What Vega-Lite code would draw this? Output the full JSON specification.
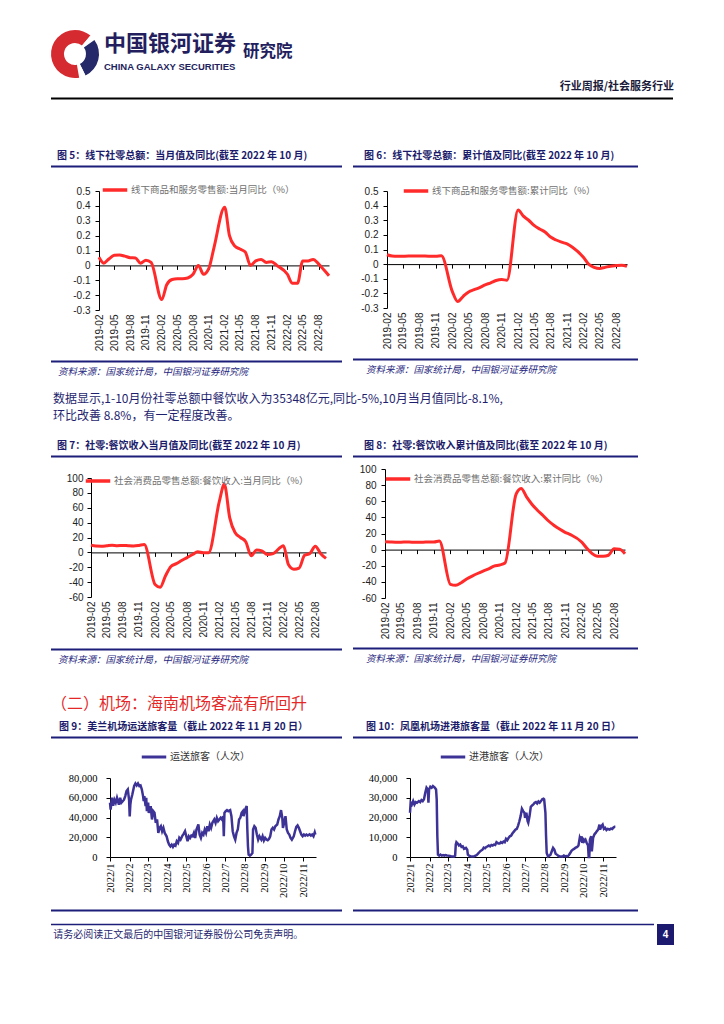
{
 "$schema": "https://vega.github.io/schema/vega-lite/v6.json",
 "background": "white",
 "padding": {"left": 50, "top": 30, "right": 10, "bottom": 5},
 "config": {"view": {"stroke": null}, "font": "Noto Sans CJK SC", "title": {"font": "Noto Sans CJK SC"}, "axis": {"grid": false}},
 "resolve": {"scale": {"color": "independent"}, "legend": {"color": "independent"}},
 "concat": [
  {"concat": [
    {"width": 48, "height": 48,
     "data": {"values": [{"k":1,"p":"r","v":40},{"k":2,"p":"w","v":14},{"k":3,"p":"n","v":100},{"k":4,"p":"w","v":16},{"k":5,"p":"r","v":190}]},
     "mark": {"type": "arc", "innerRadius": 11, "outerRadius": 24},
     "encoding": {"theta": {"field": "v", "type": "quantitative", "stack": true}, "order": {"field": "k", "type": "quantitative"},
       "color": {"field": "p", "type": "nominal", "scale": {"domain": ["r","w","n"], "range": ["#D52B30","#FFFFFF","#25296A"]}, "legend": null}}},
    {"width": 134, "height": 1, "data": {"values": [{}]}, "mark": {"type": "point", "size": 0, "opacity": 0}, "encoding": {},
     "title": {"text": "中国银河证券", "subtitle": "CHINA GALAXY SECURITIES", "orient": "bottom", "anchor": "start", "offset": 3, "fontSize": 22, "fontWeight": "bold", "color": "#231E5E", "subtitleFont": "Liberation Sans", "subtitleFontSize": 9.5, "subtitleFontWeight": "bold", "subtitleColor": "#231E5E", "subtitlePadding": 6}},
    {"width": 55, "height": 1, "data": {"values": [{}]}, "mark": {"type": "point", "size": 0, "opacity": 0}, "encoding": {},
     "title": {"text": "研究院", "orient": "bottom", "anchor": "start", "offset": 13, "fontSize": 16.5, "fontWeight": "bold", "color": "#231E5E"}}
   ], "columns": 3, "align": "none", "spacing": 5, "resolve": {"scale": {"color": "independent"}, "legend": {"color": "independent"}}},
  {"concat": [
    {"width": 622, "height": 1, "data": {"values": [{}]},
     "mark": {"type": "rule", "color": "#000000", "strokeWidth": 2},
     "encoding": {"x": {"datum": 0, "type": "quantitative", "scale": {"domain": [0, 1]}, "axis": null}, "x2": {"datum": 1}},
     "title": {"text": "行业周报/社会服务行业", "orient": "top", "anchor": "end", "offset": 6, "fontSize": 11, "fontWeight": "bold", "color": "#1A1A3A"}},
    {"concat": [
      {"concat": [
        {"concat": [
          {"width": 291, "height": 1, "data": {"values": [{}]}, "mark": {"type": "rule", "color": "#1D1D7A", "strokeWidth": 2},
           "encoding": {"x": {"datum": 0, "type": "quantitative", "scale": {"domain": [0, 1]}, "axis": null}, "x2": {"datum": 1}},
           "title": {"text": "图 5：线下社零总额：当月值及同比(截至 2022 年 10 月)", "orient": "top", "anchor": "start", "offset": 5, "dx": 7, "fontSize": 10, "fontWeight": "bold", "color": "#1B1B6B"}},
          {"concat": [
            {"concat": [
              {"width": 21, "height": 1, "data": {"values": [{}]}, "mark": {"type": "rule", "opacity": 0, "strokeWidth": 0},
               "encoding": {"x": {"datum": 0, "type": "quantitative", "scale": {"domain": [0, 1]}, "axis": null}, "x2": {"datum": 1}}},
              {"width": 230, "height": 119,
               "data": {"values": [{"m":"2019-02","v":0.055},{"m":"2019-03","v":0.015},{"m":"2019-04","v":0.045},{"m":"2019-05","v":0.068},{"m":"2019-06","v":0.07},{"m":"2019-07","v":0.062},{"m":"2019-08","v":0.052},{"m":"2019-09","v":0.05},{"m":"2019-10","v":0.015},{"m":"2019-11","v":0.035},{"m":"2019-12","v":0.02},
                 {"m":"2020-02","v":-0.23},{"m":"2020-03","v":-0.13},{"m":"2020-04","v":-0.095},{"m":"2020-05","v":-0.09},{"m":"2020-06","v":-0.09},{"m":"2020-07","v":-0.085},{"m":"2020-08","v":-0.06},{"m":"2020-09","v":0.0},{"m":"2020-10","v":-0.06},{"m":"2020-11","v":-0.02},{"m":"2020-12","v":0.12},
                 {"m":"2021-02","v":0.39},{"m":"2021-03","v":0.2},{"m":"2021-04","v":0.13},{"m":"2021-05","v":0.11},{"m":"2021-06","v":0.09},{"m":"2021-07","v":0.0},{"m":"2021-08","v":0.03},{"m":"2021-09","v":0.04},{"m":"2021-10","v":0.02},{"m":"2021-11","v":0.025},{"m":"2021-12","v":0.0},
                 {"m":"2022-02","v":-0.06},{"m":"2022-03","v":-0.12},{"m":"2022-04","v":-0.12},{"m":"2022-05","v":0.03},{"m":"2022-06","v":0.03},{"m":"2022-07","v":0.04},{"m":"2022-08","v":0.01},{"m":"2022-09","v":-0.03},{"m":"2022-10","v":-0.07}]},
               "mark": {"type": "line", "strokeWidth": 3, "interpolate": "monotone"},
               "encoding": {
                "x": {"field": "m", "type": "temporal", "scale": {"type": "utc", "domain": [{"year":2019,"month":2,"date":1,"utc":true},{"year":2022,"month":10,"date":1,"utc":true}]},
                  "axis": {"title": null, "values": [{"year":2019,"month":2,"date":1,"utc":true},{"year":2019,"month":5,"date":1,"utc":true},{"year":2019,"month":8,"date":1,"utc":true},{"year":2019,"month":11,"date":1,"utc":true},{"year":2020,"month":2,"date":1,"utc":true},{"year":2020,"month":5,"date":1,"utc":true},{"year":2020,"month":8,"date":1,"utc":true},{"year":2020,"month":11,"date":1,"utc":true},{"year":2021,"month":2,"date":1,"utc":true},{"year":2021,"month":5,"date":1,"utc":true},{"year":2021,"month":8,"date":1,"utc":true},{"year":2021,"month":11,"date":1,"utc":true},{"year":2022,"month":2,"date":1,"utc":true},{"year":2022,"month":5,"date":1,"utc":true},{"year":2022,"month":8,"date":1,"utc":true}],
                   "format": "%Y-%m", "labelAngle": 270, "labelFont": "Liberation Sans", "labelFontSize": 10, "labelColor": "#222222", "offset": -44.6, "labelPadding": 44.6, "tickSize": 4, "tickColor": "#000000", "domainColor": "#000000", "labelOverlap": false, "labelFlush": false, "labelBound": false}},
                "y": {"field": "v", "type": "quantitative", "scale": {"domain": [-0.3, 0.5], "nice": false, "zero": false},
                  "axis": {"title": null, "values": [-0.3,-0.2,-0.1,0,0.1,0.2,0.3,0.4,0.5], "labelExpr": "replace(format(datum.value, '.1~f'), '\u2212', '-')", "labelOverlap": false, "labelFont": "Liberation Sans", "labelFontSize": 10, "labelColor": "#222222", "labelPadding": 5, "tickSize": 4, "tickColor": "#000000", "domainColor": "#000000"}},
                "color": {"datum": "线下商品和服务零售额:当月同比（%）", "type": "nominal", "scale": {"domain": ["线下商品和服务零售额:当月同比（%）"], "range": ["#FF2A2A"]},
                  "legend": {"orient": "none", "legendX": 2, "legendY": -15, "title": null, "symbolType": "stroke", "symbolSize": 600, "symbolStrokeWidth": 3.5, "labelFont": "Noto Sans CJK SC", "labelFontSize": 9.5, "labelColor": "#707070", "labelLimit": 400, "padding": 0, "labelOffset": 2}}
               }}
             ], "columns": 2, "align": "none", "spacing": 0, "resolve": {"scale": {"color": "independent"}, "legend": {"color": "independent"}}},
            {"width": 291, "height": 1, "data": {"values": [{}]}, "mark": {"type": "rule", "color": "#1D1D7A", "strokeWidth": 2},
             "encoding": {"x": {"datum": 0, "type": "quantitative", "scale": {"domain": [0, 1]}, "axis": null}, "x2": {"datum": 1}},
             "title": {"text": "资料来源：国家统计局，中国银河证券研究院", "orient": "bottom", "anchor": "start", "offset": 4, "dx": 8, "fontSize": 9.5, "fontStyle": "italic", "fontWeight": "normal", "color": "#1F1F80"}}
           ], "columns": 1, "align": "none", "spacing": 9, "resolve": {"scale": {"color": "independent"}, "legend": {"color": "independent"}}}
         ], "columns": 1, "align": "none", "spacing": 8, "resolve": {"scale": {"color": "independent"}, "legend": {"color": "independent"}}},
        {"concat": [
          {"width": 285, "height": 1, "data": {"values": [{}]}, "mark": {"type": "rule", "color": "#1D1D7A", "strokeWidth": 2},
           "encoding": {"x": {"datum": 0, "type": "quantitative", "scale": {"domain": [0, 1]}, "axis": null}, "x2": {"datum": 1}},
           "title": {"text": "图 6：线下社零总额：累计值及同比(截至 2022 年 10 月)", "orient": "top", "anchor": "start", "offset": 5, "dx": 12, "fontSize": 10, "fontWeight": "bold", "color": "#1B1B6B"}},
          {"concat": [
            {"concat": [
              {"width": 7, "height": 1, "data": {"values": [{}]}, "mark": {"type": "rule", "opacity": 0, "strokeWidth": 0},
               "encoding": {"x": {"datum": 0, "type": "quantitative", "scale": {"domain": [0, 1]}, "axis": null}, "x2": {"datum": 1}}},
              {"width": 240, "height": 117,
               "data": {"values": [{"m":"2019-02","v":0.064},{"m":"2019-03","v":0.055},{"m":"2019-04","v":0.053},{"m":"2019-05","v":0.054},{"m":"2019-06","v":0.055},{"m":"2019-07","v":0.055},{"m":"2019-08","v":0.055},{"m":"2019-09","v":0.055},{"m":"2019-10","v":0.054},{"m":"2019-11","v":0.053},{"m":"2019-12","v":0.057},
                 {"m":"2020-02","v":-0.19},{"m":"2020-03","v":-0.255},{"m":"2020-04","v":-0.22},{"m":"2020-05","v":-0.19},{"m":"2020-06","v":-0.175},{"m":"2020-07","v":-0.16},{"m":"2020-08","v":-0.142},{"m":"2020-09","v":-0.128},{"m":"2020-10","v":-0.112},{"m":"2020-11","v":-0.105},{"m":"2020-12","v":-0.11},
                 {"m":"2021-02","v":0.37},{"m":"2021-03","v":0.33},{"m":"2021-04","v":0.3},{"m":"2021-05","v":0.265},{"m":"2021-06","v":0.24},{"m":"2021-07","v":0.22},{"m":"2021-08","v":0.185},{"m":"2021-09","v":0.165},{"m":"2021-10","v":0.15},{"m":"2021-11","v":0.138},{"m":"2021-12","v":0.115},
                 {"m":"2022-02","v":0.045},{"m":"2022-03","v":0.0},{"m":"2022-04","v":-0.022},{"m":"2022-05","v":-0.03},{"m":"2022-06","v":-0.022},{"m":"2022-07","v":-0.014},{"m":"2022-08","v":-0.01},{"m":"2022-09","v":-0.007},{"m":"2022-10","v":-0.016}]},
               "mark": {"type": "line", "strokeWidth": 3, "interpolate": "monotone"},
               "encoding": {
                "x": {"field": "m", "type": "temporal", "scale": {"type": "utc", "domain": [{"year":2019,"month":2,"date":1,"utc":true},{"year":2022,"month":10,"date":1,"utc":true}]},
                  "axis": {"title": null, "values": [{"year":2019,"month":2,"date":1,"utc":true},{"year":2019,"month":5,"date":1,"utc":true},{"year":2019,"month":8,"date":1,"utc":true},{"year":2019,"month":11,"date":1,"utc":true},{"year":2020,"month":2,"date":1,"utc":true},{"year":2020,"month":5,"date":1,"utc":true},{"year":2020,"month":8,"date":1,"utc":true},{"year":2020,"month":11,"date":1,"utc":true},{"year":2021,"month":2,"date":1,"utc":true},{"year":2021,"month":5,"date":1,"utc":true},{"year":2021,"month":8,"date":1,"utc":true},{"year":2021,"month":11,"date":1,"utc":true},{"year":2022,"month":2,"date":1,"utc":true},{"year":2022,"month":5,"date":1,"utc":true},{"year":2022,"month":8,"date":1,"utc":true}],
                   "format": "%Y-%m", "labelAngle": 270, "labelFont": "Liberation Sans", "labelFontSize": 10, "labelColor": "#222222", "offset": -43.9, "labelPadding": 43.9, "tickSize": 4, "tickColor": "#000000", "domainColor": "#000000", "labelOverlap": false, "labelFlush": false, "labelBound": false}},
                "y": {"field": "v", "type": "quantitative", "scale": {"domain": [-0.3, 0.5], "nice": false, "zero": false},
                  "axis": {"title": null, "values": [-0.3,-0.2,-0.1,0,0.1,0.2,0.3,0.4,0.5], "labelExpr": "replace(format(datum.value, '.1~f'), '\u2212', '-')", "labelOverlap": false, "labelFont": "Liberation Sans", "labelFontSize": 10, "labelColor": "#222222", "labelPadding": 5, "tickSize": 4, "tickColor": "#000000", "domainColor": "#000000"}},
                "color": {"datum": "线下商品和服务零售额:累计同比（%）", "type": "nominal", "scale": {"domain": ["线下商品和服务零售额:累计同比（%）"], "range": ["#FF2A2A"]},
                  "legend": {"orient": "none", "legendX": 15, "legendY": -14, "title": null, "symbolType": "stroke", "symbolSize": 600, "symbolStrokeWidth": 3.5, "labelFont": "Noto Sans CJK SC", "labelFontSize": 9.5, "labelColor": "#707070", "labelLimit": 400, "padding": 0, "labelOffset": 2}}
               }}
             ], "columns": 2, "align": "none", "spacing": 0, "resolve": {"scale": {"color": "independent"}, "legend": {"color": "independent"}}},
            {"width": 285, "height": 1, "data": {"values": [{}]}, "mark": {"type": "rule", "color": "#1D1D7A", "strokeWidth": 2},
             "encoding": {"x": {"datum": 0, "type": "quantitative", "scale": {"domain": [0, 1]}, "axis": null}, "x2": {"datum": 1}},
             "title": {"text": "资料来源：国家统计局，中国银河证券研究院", "orient": "bottom", "anchor": "start", "offset": 4, "dx": 14, "fontSize": 9.5, "fontStyle": "italic", "fontWeight": "normal", "color": "#1F1F80"}}
           ], "columns": 1, "align": "none", "spacing": 9, "resolve": {"scale": {"color": "independent"}, "legend": {"color": "independent"}}}
         ], "columns": 1, "align": "none", "spacing": 9, "resolve": {"scale": {"color": "independent"}, "legend": {"color": "independent"}}}
       ], "columns": 2, "align": "none", "spacing": 9, "resolve": {"scale": {"color": "independent"}, "legend": {"color": "independent"}}},
      {"concat": [
        {"width": 622, "height": 1, "data": {"values": [{}]}, "mark": {"type": "point", "size": 0, "opacity": 0}, "encoding": {},
         "title": {"text": ["　　数据显示,1-10月份社零总额中餐饮收入为35348亿元,同比-5%,10月当月值同比-8.1%,", "环比改善 8.8%，有一定程度改善。"], "orient": "top", "anchor": "start", "offset": 0, "dx": 2, "fontSize": 12, "fontWeight": "normal", "lineHeight": 17, "color": "#1F1F70"}},
        {"concat": [
          {"concat": [
            {"concat": [
              {"width": 291, "height": 1, "data": {"values": [{}]}, "mark": {"type": "rule", "color": "#1D1D7A", "strokeWidth": 2},
               "encoding": {"x": {"datum": 0, "type": "quantitative", "scale": {"domain": [0, 1]}, "axis": null}, "x2": {"datum": 1}},
               "title": {"text": "图 7：社零:餐饮收入当月值及同比(截至 2022 年 10 月)", "orient": "top", "anchor": "start", "offset": 5, "dx": 7, "fontSize": 10, "fontWeight": "bold", "color": "#1B1B6B"}},
              {"concat": [
                {"concat": [
                  {"width": 15, "height": 1, "data": {"values": [{}]}, "mark": {"type": "rule", "opacity": 0, "strokeWidth": 0},
                   "encoding": {"x": {"datum": 0, "type": "quantitative", "scale": {"domain": [0, 1]}, "axis": null}, "x2": {"datum": 1}}},
                  {"width": 235, "height": 119,
                   "data": {"values": [{"m":"2019-02","v":9.7},{"m":"2019-03","v":8.5},{"m":"2019-04","v":8.3},{"m":"2019-05","v":8.8},{"m":"2019-06","v":9.5},{"m":"2019-07","v":9.0},{"m":"2019-08","v":9.4},{"m":"2019-09","v":8.9},{"m":"2019-10","v":8.6},{"m":"2019-11","v":9.3},{"m":"2019-12","v":10.5},
                     {"m":"2020-02","v":-43.1},{"m":"2020-03","v":-46.8},{"m":"2020-04","v":-31.1},{"m":"2020-05","v":-18.9},{"m":"2020-06","v":-15.2},{"m":"2020-07","v":-11.0},{"m":"2020-08","v":-7.0},{"m":"2020-09","v":-2.9},{"m":"2020-10","v":0.8},{"m":"2020-11","v":-0.6},{"m":"2020-12","v":-0.5},
                     {"m":"2021-02","v":68.9},{"m":"2021-03","v":91.6},{"m":"2021-04","v":46.4},{"m":"2021-05","v":26.6},{"m":"2021-06","v":20.0},{"m":"2021-07","v":14.3},{"m":"2021-08","v":-4.5},{"m":"2021-09","v":3.1},{"m":"2021-10","v":2.0},{"m":"2021-11","v":-2.7},{"m":"2021-12","v":-2.0},
                     {"m":"2022-02","v":8.9},{"m":"2022-03","v":-16.4},{"m":"2022-04","v":-22.7},{"m":"2022-05","v":-21.1},{"m":"2022-06","v":-4.0},{"m":"2022-07","v":-1.5},{"m":"2022-08","v":8.4},{"m":"2022-09","v":-1.7},{"m":"2022-10","v":-8.1}]},
                   "mark": {"type": "line", "strokeWidth": 3, "interpolate": "monotone"},
                   "encoding": {
                    "x": {"field": "m", "type": "temporal", "scale": {"type": "utc", "domain": [{"year":2019,"month":2,"date":1,"utc":true},{"year":2022,"month":10,"date":1,"utc":true}]},
                      "axis": {"title": null, "values": [{"year":2019,"month":2,"date":1,"utc":true},{"year":2019,"month":5,"date":1,"utc":true},{"year":2019,"month":8,"date":1,"utc":true},{"year":2019,"month":11,"date":1,"utc":true},{"year":2020,"month":2,"date":1,"utc":true},{"year":2020,"month":5,"date":1,"utc":true},{"year":2020,"month":8,"date":1,"utc":true},{"year":2020,"month":11,"date":1,"utc":true},{"year":2021,"month":2,"date":1,"utc":true},{"year":2021,"month":5,"date":1,"utc":true},{"year":2021,"month":8,"date":1,"utc":true},{"year":2021,"month":11,"date":1,"utc":true},{"year":2022,"month":2,"date":1,"utc":true},{"year":2022,"month":5,"date":1,"utc":true},{"year":2022,"month":8,"date":1,"utc":true}],
                       "format": "%Y-%m", "labelAngle": 270, "labelFont": "Liberation Sans", "labelFontSize": 10, "labelColor": "#222222", "offset": -44.6, "labelPadding": 44.6, "tickSize": 4, "tickColor": "#000000", "domainColor": "#000000", "labelOverlap": false, "labelFlush": false, "labelBound": false}},
                    "y": {"field": "v", "type": "quantitative", "scale": {"domain": [-60, 100], "nice": false, "zero": false},
                      "axis": {"title": null, "values": [-60,-40,-20,0,20,40,60,80,100], "labelExpr": "replace(format(datum.value, 'd'), '\u2212', '-')", "labelOverlap": false, "labelFont": "Liberation Sans", "labelFontSize": 10, "labelColor": "#222222", "labelPadding": 4, "tickSize": 4, "tickColor": "#000000", "domainColor": "#000000"}},
                    "color": {"datum": "社会消费品零售总额:餐饮收入:当月同比（%）", "type": "nominal", "scale": {"domain": ["社会消费品零售总额:餐饮收入:当月同比（%）"], "range": ["#FF2A2A"]},
                      "legend": {"orient": "none", "legendX": -7, "legendY": -11, "title": null, "symbolType": "stroke", "symbolSize": 600, "symbolStrokeWidth": 3.5, "labelFont": "Noto Sans CJK SC", "labelFontSize": 9.5, "labelColor": "#707070", "labelLimit": 400, "padding": 0, "labelOffset": 2}}
                   }}
                 ], "columns": 2, "align": "none", "spacing": 0, "resolve": {"scale": {"color": "independent"}, "legend": {"color": "independent"}}},
                {"width": 291, "height": 1, "data": {"values": [{}]}, "mark": {"type": "rule", "color": "#1D1D7A", "strokeWidth": 2},
                 "encoding": {"x": {"datum": 0, "type": "quantitative", "scale": {"domain": [0, 1]}, "axis": null}, "x2": {"datum": 1}},
                 "title": {"text": "资料来源：国家统计局，中国银河证券研究院", "orient": "bottom", "anchor": "start", "offset": 4, "dx": 8, "fontSize": 9.5, "fontStyle": "italic", "fontWeight": "normal", "color": "#1F1F80"}}
               ], "columns": 1, "align": "none", "spacing": 10, "resolve": {"scale": {"color": "independent"}, "legend": {"color": "independent"}}}
             ], "columns": 1, "align": "none", "spacing": 9, "resolve": {"scale": {"color": "independent"}, "legend": {"color": "independent"}}},
            {"concat": [
              {"width": 285, "height": 1, "data": {"values": [{}]}, "mark": {"type": "rule", "color": "#1D1D7A", "strokeWidth": 2},
               "encoding": {"x": {"datum": 0, "type": "quantitative", "scale": {"domain": [0, 1]}, "axis": null}, "x2": {"datum": 1}},
               "title": {"text": "图 8：社零:餐饮收入累计值及同比(截至 2022 年 10 月)", "orient": "top", "anchor": "start", "offset": 5, "dx": 12, "fontSize": 10, "fontWeight": "bold", "color": "#1B1B6B"}},
              {"concat": [
                {"concat": [
                  {"width": 6, "height": 1, "data": {"values": [{}]}, "mark": {"type": "rule", "opacity": 0, "strokeWidth": 0},
                   "encoding": {"x": {"datum": 0, "type": "quantitative", "scale": {"domain": [0, 1]}, "axis": null}, "x2": {"datum": 1}}},
                  {"width": 240, "height": 129,
                   "data": {"values": [{"m":"2019-02","v":9.7},{"m":"2019-03","v":9.5},{"m":"2019-04","v":9.3},{"m":"2019-05","v":9.3},{"m":"2019-06","v":9.4},{"m":"2019-07","v":9.3},{"m":"2019-08","v":9.3},{"m":"2019-09","v":9.3},{"m":"2019-10","v":9.4},{"m":"2019-11","v":9.4},{"m":"2019-12","v":10.8},
                     {"m":"2020-02","v":-43.1},{"m":"2020-03","v":-44.3},{"m":"2020-04","v":-41.0},{"m":"2020-05","v":-36.5},{"m":"2020-06","v":-32.8},{"m":"2020-07","v":-29.6},{"m":"2020-08","v":-26.6},{"m":"2020-09","v":-23.9},{"m":"2020-10","v":-20.5},{"m":"2020-11","v":-19.0},{"m":"2020-12","v":-16.6},
                     {"m":"2021-02","v":68.9},{"m":"2021-03","v":75.9},{"m":"2021-04","v":65.0},{"m":"2021-05","v":56.0},{"m":"2021-06","v":48.6},{"m":"2021-07","v":42.3},{"m":"2021-08","v":35.5},{"m":"2021-09","v":30.0},{"m":"2021-10","v":25.5},{"m":"2021-11","v":21.5},{"m":"2021-12","v":18.6},
                     {"m":"2022-02","v":9.5},{"m":"2022-03","v":2.0},{"m":"2022-04","v":-5.0},{"m":"2022-05","v":-8.3},{"m":"2022-06","v":-8.3},{"m":"2022-07","v":-7.0},{"m":"2022-08","v":1.0},{"m":"2022-09","v":0.5},{"m":"2022-10","v":-5.0}]},
                   "mark": {"type": "line", "strokeWidth": 3, "interpolate": "monotone"},
                   "encoding": {
                    "x": {"field": "m", "type": "temporal", "scale": {"type": "utc", "domain": [{"year":2019,"month":2,"date":1,"utc":true},{"year":2022,"month":10,"date":1,"utc":true}]},
                      "axis": {"title": null, "values": [{"year":2019,"month":2,"date":1,"utc":true},{"year":2019,"month":5,"date":1,"utc":true},{"year":2019,"month":8,"date":1,"utc":true},{"year":2019,"month":11,"date":1,"utc":true},{"year":2020,"month":2,"date":1,"utc":true},{"year":2020,"month":5,"date":1,"utc":true},{"year":2020,"month":8,"date":1,"utc":true},{"year":2020,"month":11,"date":1,"utc":true},{"year":2021,"month":2,"date":1,"utc":true},{"year":2021,"month":5,"date":1,"utc":true},{"year":2021,"month":8,"date":1,"utc":true},{"year":2021,"month":11,"date":1,"utc":true},{"year":2022,"month":2,"date":1,"utc":true},{"year":2022,"month":5,"date":1,"utc":true},{"year":2022,"month":8,"date":1,"utc":true}],
                       "format": "%Y-%m", "labelAngle": 270, "labelFont": "Liberation Sans", "labelFontSize": 10, "labelColor": "#222222", "offset": -48.4, "labelPadding": 48.4, "tickSize": 4, "tickColor": "#000000", "domainColor": "#000000", "labelOverlap": false, "labelFlush": false, "labelBound": false}},
                    "y": {"field": "v", "type": "quantitative", "scale": {"domain": [-60, 100], "nice": false, "zero": false},
                      "axis": {"title": null, "values": [-60,-40,-20,0,20,40,60,80,100], "labelExpr": "replace(format(datum.value, 'd'), '\u2212', '-')", "labelOverlap": false, "labelFont": "Liberation Sans", "labelFontSize": 10, "labelColor": "#222222", "labelPadding": 5, "tickSize": 4, "tickColor": "#000000", "domainColor": "#000000"}},
                    "color": {"datum": "社会消费品零售总额:餐饮收入:累计同比（%）", "type": "nominal", "scale": {"domain": ["社会消费品零售总额:餐饮收入:累计同比（%）"], "range": ["#FF2A2A"]},
                      "legend": {"orient": "none", "legendX": -1, "legendY": -4, "title": null, "symbolType": "stroke", "symbolSize": 600, "symbolStrokeWidth": 3.5, "labelFont": "Noto Sans CJK SC", "labelFontSize": 9.5, "labelColor": "#707070", "labelLimit": 400, "padding": 0, "labelOffset": 2}}
                   }}
                 ], "columns": 2, "align": "none", "spacing": 0, "resolve": {"scale": {"color": "independent"}, "legend": {"color": "independent"}}},
                {"width": 285, "height": 1, "data": {"values": [{}]}, "mark": {"type": "rule", "color": "#1D1D7A", "strokeWidth": 2},
                 "encoding": {"x": {"datum": 0, "type": "quantitative", "scale": {"domain": [0, 1]}, "axis": null}, "x2": {"datum": 1}},
                 "title": {"text": "资料来源：国家统计局，中国银河证券研究院", "orient": "bottom", "anchor": "start", "offset": 4, "dx": 14, "fontSize": 9.5, "fontStyle": "italic", "fontWeight": "normal", "color": "#1F1F80"}}
               ], "columns": 1, "align": "none", "spacing": 8, "resolve": {"scale": {"color": "independent"}, "legend": {"color": "independent"}}}
             ], "columns": 1, "align": "none", "spacing": 6, "resolve": {"scale": {"color": "independent"}, "legend": {"color": "independent"}}}
           ], "columns": 2, "align": "none", "spacing": 9, "resolve": {"scale": {"color": "independent"}, "legend": {"color": "independent"}}},
          {"concat": [
            {"width": 622, "height": 1, "data": {"values": [{}]}, "mark": {"type": "point", "size": 0, "opacity": 0}, "encoding": {},
             "title": {"text": "（二）机场：海南机场客流有所回升", "orient": "top", "anchor": "start", "offset": 0, "fontSize": 16, "fontWeight": "normal", "color": "#E42828"}},
            {"concat": [
              {"concat": [
                {"concat": [
                  {"width": 291, "height": 1, "data": {"values": [{}]}, "mark": {"type": "rule", "color": "#1D1D7A", "strokeWidth": 2},
                   "encoding": {"x": {"datum": 0, "type": "quantitative", "scale": {"domain": [0, 1]}, "axis": null}, "x2": {"datum": 1}},
                   "title": {"text": "图 9：美兰机场运送旅客量（截止 2022 年 11 月 20 日）", "orient": "top", "anchor": "start", "offset": 5, "dx": 9, "fontSize": 10, "fontWeight": "bold", "color": "#1B1B6B"}},
                  {"concat": [
                    {"concat": [
                      {"width": 17, "height": 1, "data": {"values": [{}]}, "mark": {"type": "rule", "opacity": 0, "strokeWidth": 0},
                       "encoding": {"x": {"datum": 0, "type": "quantitative", "scale": {"domain": [0, 1]}, "axis": null}, "x2": {"datum": 1}}},
                      {"width": 206, "height": 79,
                       "data": {"values": [{"d":0,"v":55000},{"d":1,"v":48000},{"d":3,"v":60000},{"d":5,"v":52000},{"d":7,"v":58000},{"d":9,"v":55000},{"d":11,"v":60000},{"d":14,"v":53000},{"d":16,"v":60000},{"d":18,"v":55000},{"d":20,"v":56500},{"d":22,"v":58000},{"d":24,"v":61700},{"d":26,"v":66800},{"d":28,"v":68500},{"d":30,"v":58000},{"d":31,"v":41000},{"d":32,"v":53000},{"d":33,"v":58000},{"d":35,"v":63000},{"d":38,"v":72000},{"d":40,"v":74500},{"d":42,"v":72500},{"d":44,"v":74500},{"d":46,"v":72000},{"d":48,"v":72500},{"d":50,"v":68500},{"d":52,"v":61700},{"d":53,"v":56500},{"d":54,"v":61700},{"d":56,"v":51500},{"d":57,"v":60000},{"d":58,"v":46400},{"d":60,"v":55000},{"d":61,"v":44700},{"d":64,"v":51500},{"d":66,"v":38000},{"d":68,"v":46400},{"d":70,"v":44700},{"d":72,"v":34600},{"d":74,"v":38000},{"d":76,"v":24400},{"d":78,"v":29500},{"d":80,"v":31200},{"d":82,"v":26100},{"d":84,"v":29500},{"d":86,"v":24400},{"d":89,"v":21000},{"d":91,"v":15900},{"d":93,"v":12500},{"d":95,"v":10800},{"d":97,"v":12500},{"d":99,"v":10200},{"d":101,"v":12500},{"d":103,"v":11500},{"d":105,"v":15900},{"d":107,"v":14200},{"d":109,"v":19300},{"d":111,"v":17600},{"d":114,"v":21700},{"d":116,"v":23700},{"d":118,"v":26100},{"d":120,"v":21000},{"d":122,"v":15900},{"d":124,"v":21000},{"d":126,"v":19300},{"d":128,"v":21700},{"d":130,"v":21000},{"d":132,"v":24400},{"d":134,"v":19300},{"d":136,"v":27800},{"d":139,"v":32900},{"d":141,"v":22700},{"d":143,"v":19300},{"d":145,"v":24400},{"d":147,"v":22700},{"d":149,"v":27800},{"d":151,"v":24400},{"d":153,"v":31200},{"d":155,"v":26100},{"d":157,"v":32900},{"d":159,"v":29500},{"d":161,"v":34600},{"d":164,"v":38000},{"d":166,"v":34600},{"d":168,"v":39700},{"d":170,"v":36300},{"d":172,"v":38000},{"d":174,"v":39700},{"d":176,"v":38000},{"d":178,"v":41300},{"d":179,"v":21000},{"d":180,"v":44700},{"d":182,"v":46400},{"d":184,"v":47500},{"d":186,"v":46400},{"d":189,"v":47500},{"d":191,"v":41300},{"d":193,"v":26100},{"d":195,"v":21000},{"d":197,"v":17600},{"d":199,"v":24400},{"d":201,"v":27800},{"d":203,"v":38000},{"d":205,"v":39700},{"d":207,"v":44700},{"d":209,"v":46400},{"d":210,"v":41300},{"d":213,"v":48800},{"d":215,"v":51500},{"d":216,"v":27800},{"d":217,"v":10800},{"d":218,"v":2400},{"d":220,"v":1400},{"d":222,"v":2400},{"d":224,"v":4000},{"d":225,"v":27800},{"d":227,"v":31200},{"d":229,"v":29500},{"d":231,"v":22700},{"d":233,"v":17600},{"d":235,"v":21000},{"d":238,"v":17600},{"d":240,"v":21000},{"d":242,"v":16600},{"d":244,"v":19300},{"d":246,"v":17600},{"d":248,"v":16900},{"d":250,"v":18300},{"d":252,"v":21000},{"d":254,"v":27800},{"d":256,"v":29500},{"d":258,"v":27800},{"d":260,"v":31200},{"d":263,"v":32900},{"d":265,"v":38000},{"d":267,"v":41300},{"d":269,"v":47500},{"d":271,"v":39700},{"d":272,"v":29500},{"d":274,"v":34600},{"d":276,"v":41300},{"d":278,"v":27800},{"d":280,"v":24400},{"d":282,"v":22700},{"d":284,"v":19300},{"d":286,"v":17600},{"d":289,"v":21000},{"d":291,"v":26100},{"d":293,"v":30500},{"d":295,"v":31900},{"d":297,"v":29500},{"d":299,"v":26100},{"d":301,"v":22700},{"d":303,"v":21000},{"d":305,"v":22700},{"d":307,"v":21700},{"d":309,"v":22700},{"d":311,"v":21700},{"d":314,"v":23000},{"d":316,"v":21700},{"d":318,"v":22700},{"d":320,"v":21000},{"d":322,"v":25000},{"d":323,"v":22700}]},
                       "mark": {"type": "line", "strokeWidth": 2.5},
                       "encoding": {
                        "x": {"field": "d", "type": "quantitative", "scale": {"domain": [0, 324], "nice": false, "zero": false},
                          "axis": {"title": null, "values": [0,31,59,90,120,151,181,212,243,273,304], "labelExpr": "'2022/' + (indexof([0,31,59,90,120,151,181,212,243,273,304], datum.value) + 1)", "labelAngle": 270, "labelFont": "Liberation Serif", "labelFontSize": 10.5, "labelColor": "#000000", "labelPadding": 2, "tickSize": 4, "tickColor": "#000000", "domainColor": "#000000", "labelOverlap": false, "labelFlush": false, "labelBound": false}},
                        "y": {"field": "v", "type": "quantitative", "scale": {"domain": [0, 80000], "nice": false},
                          "axis": {"title": null, "values": [0,20000,40000,60000,80000], "format": ",d", "labelOverlap": false, "labelFont": "Liberation Serif", "labelFontSize": 10.5, "labelColor": "#000000", "labelPadding": 9, "tickSize": 4, "tickColor": "#000000", "domainColor": "#000000"}},
                        "color": {"datum": "运送旅客（人次）", "type": "nominal", "scale": {"domain": ["运送旅客（人次）"], "range": ["#3D3396"]},
                          "legend": {"orient": "none", "legendX": 30, "legendY": -35, "title": null, "symbolType": "stroke", "symbolSize": 600, "symbolStrokeWidth": 3, "labelFont": "Noto Sans CJK SC", "labelFontSize": 10, "labelColor": "#333333", "labelLimit": 300, "padding": 0, "labelOffset": 2}}
                       }}
                     ], "columns": 2, "align": "none", "spacing": 0, "resolve": {"scale": {"color": "independent"}, "legend": {"color": "independent"}}},
                    {"width": 291, "height": 1, "data": {"values": [{}]}, "mark": {"type": "rule", "color": "#1D1D7A", "strokeWidth": 2},
                     "encoding": {"x": {"datum": 0, "type": "quantitative", "scale": {"domain": [0, 1]}, "axis": null}, "x2": {"datum": 1}}}
                   ], "columns": 1, "align": "none", "spacing": 11, "resolve": {"scale": {"color": "independent"}, "legend": {"color": "independent"}}}
                 ], "columns": 1, "align": "none", "spacing": 4, "resolve": {"scale": {"color": "independent"}, "legend": {"color": "independent"}}},
                {"concat": [
                  {"width": 285, "height": 1, "data": {"values": [{}]}, "mark": {"type": "rule", "color": "#1D1D7A", "strokeWidth": 2},
                   "encoding": {"x": {"datum": 0, "type": "quantitative", "scale": {"domain": [0, 1]}, "axis": null}, "x2": {"datum": 1}},
                   "title": {"text": "图 10：凤凰机场进港旅客量（截止 2022 年 11 月 20 日）", "orient": "top", "anchor": "start", "offset": 5, "dx": 14, "fontSize": 10, "fontWeight": "bold", "color": "#1B1B6B"}},
                  {"concat": [
                    {"concat": [
                      {"width": 15, "height": 1, "data": {"values": [{}]}, "mark": {"type": "rule", "opacity": 0, "strokeWidth": 0},
                       "encoding": {"x": {"datum": 0, "type": "quantitative", "scale": {"domain": [0, 1]}, "axis": null}, "x2": {"datum": 1}}},
                      {"width": 206, "height": 79,
                       "data": {"values": [{"d":0,"v":22400},{"d":1,"v":27500},{"d":3,"v":26600},{"d":5,"v":28300},{"d":7,"v":26600},{"d":9,"v":27800},{"d":11,"v":27500},{"d":14,"v":28300},{"d":16,"v":27800},{"d":18,"v":28800},{"d":20,"v":28300},{"d":22,"v":29200},{"d":24,"v":32500},{"d":26,"v":35100},{"d":28,"v":34200},{"d":29,"v":27500},{"d":30,"v":34200},{"d":32,"v":35600},{"d":34,"v":35100},{"d":36,"v":35900},{"d":39,"v":35100},{"d":41,"v":34200},{"d":42,"v":29200},{"d":43,"v":10500},{"d":44,"v":1200},{"d":46,"v":700},{"d":48,"v":1200},{"d":50,"v":700},{"d":52,"v":1000},{"d":54,"v":700},{"d":56,"v":1000},{"d":58,"v":800},{"d":60,"v":700},{"d":63,"v":500},{"d":65,"v":300},{"d":67,"v":300},{"d":69,"v":200},{"d":71,"v":700},{"d":72,"v":6300},{"d":73,"v":7500},{"d":75,"v":6800},{"d":77,"v":5800},{"d":79,"v":6300},{"d":81,"v":5100},{"d":83,"v":5400},{"d":85,"v":4100},{"d":88,"v":4600},{"d":90,"v":3700},{"d":91,"v":1200},{"d":93,"v":700},{"d":95,"v":300},{"d":97,"v":200},{"d":99,"v":200},{"d":101,"v":300},{"d":103,"v":700},{"d":105,"v":1000},{"d":107,"v":1700},{"d":109,"v":2400},{"d":111,"v":3100},{"d":114,"v":3700},{"d":116,"v":4700},{"d":118,"v":4400},{"d":120,"v":5100},{"d":122,"v":5400},{"d":124,"v":5800},{"d":126,"v":5400},{"d":128,"v":6100},{"d":130,"v":5800},{"d":132,"v":6300},{"d":134,"v":6100},{"d":136,"v":7500},{"d":139,"v":6800},{"d":141,"v":6800},{"d":143,"v":7500},{"d":145,"v":7100},{"d":147,"v":7800},{"d":149,"v":7500},{"d":151,"v":9200},{"d":153,"v":8500},{"d":155,"v":9700},{"d":157,"v":10500},{"d":159,"v":10800},{"d":161,"v":11900},{"d":164,"v":13100},{"d":166,"v":13900},{"d":168,"v":14200},{"d":170,"v":15900},{"d":172,"v":18100},{"d":174,"v":20700},{"d":176,"v":24400},{"d":178,"v":23200},{"d":180,"v":22400},{"d":181,"v":19800},{"d":183,"v":22400},{"d":185,"v":18100},{"d":186,"v":17300},{"d":188,"v":20700},{"d":190,"v":25400},{"d":192,"v":26100},{"d":194,"v":26600},{"d":196,"v":27500},{"d":198,"v":27800},{"d":200,"v":27100},{"d":202,"v":28100},{"d":204,"v":27500},{"d":206,"v":28300},{"d":208,"v":29200},{"d":210,"v":29500},{"d":211,"v":29200},{"d":213,"v":22400},{"d":214,"v":10500},{"d":215,"v":2000},{"d":217,"v":300},{"d":219,"v":700},{"d":221,"v":1200},{"d":223,"v":2900},{"d":225,"v":4600},{"d":227,"v":3700},{"d":229,"v":1700},{"d":231,"v":1200},{"d":233,"v":700},{"d":235,"v":300},{"d":238,"v":300},{"d":240,"v":200},{"d":242,"v":700},{"d":244,"v":300},{"d":246,"v":500},{"d":248,"v":300},{"d":250,"v":1000},{"d":252,"v":2000},{"d":254,"v":3100},{"d":256,"v":3700},{"d":258,"v":4100},{"d":260,"v":4600},{"d":263,"v":5100},{"d":265,"v":5800},{"d":267,"v":9700},{"d":269,"v":8000},{"d":270,"v":10500},{"d":271,"v":7100},{"d":272,"v":9700},{"d":274,"v":8000},{"d":276,"v":8800},{"d":278,"v":7100},{"d":280,"v":5800},{"d":281,"v":0},{"d":282,"v":0},{"d":283,"v":8800},{"d":285,"v":10500},{"d":286,"v":2900},{"d":288,"v":9700},{"d":290,"v":11400},{"d":292,"v":12200},{"d":294,"v":13100},{"d":296,"v":13900},{"d":298,"v":16400},{"d":299,"v":13900},{"d":301,"v":15600},{"d":303,"v":16400},{"d":305,"v":14200},{"d":307,"v":14700},{"d":309,"v":13600},{"d":311,"v":14200},{"d":314,"v":13900},{"d":316,"v":14400},{"d":318,"v":14200},{"d":320,"v":14900},{"d":322,"v":15300},{"d":323,"v":15300}]},
                       "mark": {"type": "line", "strokeWidth": 2.5},
                       "encoding": {
                        "x": {"field": "d", "type": "quantitative", "scale": {"domain": [0, 324], "nice": false, "zero": false},
                          "axis": {"title": null, "values": [0,31,59,90,120,151,181,212,243,273,304], "labelExpr": "'2022/' + (indexof([0,31,59,90,120,151,181,212,243,273,304], datum.value) + 1)", "labelAngle": 270, "labelFont": "Liberation Serif", "labelFontSize": 10.5, "labelColor": "#000000", "labelPadding": 2, "tickSize": 4, "tickColor": "#000000", "domainColor": "#000000", "labelOverlap": false, "labelFlush": false, "labelBound": false}},
                        "y": {"field": "v", "type": "quantitative", "scale": {"domain": [0, 40000], "nice": false},
                          "axis": {"title": null, "values": [0,10000,20000,30000,40000], "format": ",d", "labelOverlap": false, "labelFont": "Liberation Serif", "labelFontSize": 10.5, "labelColor": "#000000", "labelPadding": 9, "tickSize": 4, "tickColor": "#000000", "domainColor": "#000000"}},
                        "color": {"datum": "进港旅客（人次）", "type": "nominal", "scale": {"domain": ["进港旅客（人次）"], "range": ["#3D3396"]},
                          "legend": {"orient": "none", "legendX": 29, "legendY": -35, "title": null, "symbolType": "stroke", "symbolSize": 600, "symbolStrokeWidth": 3, "labelFont": "Noto Sans CJK SC", "labelFontSize": 10, "labelColor": "#333333", "labelLimit": 300, "padding": 0, "labelOffset": 2}}
                       }}
                     ], "columns": 2, "align": "none", "spacing": 0, "resolve": {"scale": {"color": "independent"}, "legend": {"color": "independent"}}},
                    {"width": 285, "height": 1, "data": {"values": [{}]}, "mark": {"type": "rule", "color": "#1D1D7A", "strokeWidth": 2},
                     "encoding": {"x": {"datum": 0, "type": "quantitative", "scale": {"domain": [0, 1]}, "axis": null}, "x2": {"datum": 1}}}
                   ], "columns": 1, "align": "none", "spacing": 11, "resolve": {"scale": {"color": "independent"}, "legend": {"color": "independent"}}}
                 ], "columns": 1, "align": "none", "spacing": 4, "resolve": {"scale": {"color": "independent"}, "legend": {"color": "independent"}}}
               ], "columns": 2, "align": "none", "spacing": 9, "resolve": {"scale": {"color": "independent"}, "legend": {"color": "independent"}}},
              {"concat": [
                {"width": 603, "height": 1, "data": {"values": [{}]}, "mark": {"type": "rule", "color": "#1D1D7A", "strokeWidth": 1.5},
                 "encoding": {"x": {"datum": 0, "type": "quantitative", "scale": {"domain": [0, 1]}, "axis": null}, "x2": {"datum": 1}},
                 "title": {"text": "请务必阅读正文最后的中国银河证券股份公司免责声明。", "orient": "bottom", "anchor": "start", "offset": 5, "dx": 3, "fontSize": 10, "fontWeight": "normal", "color": "#1F1F70"}},
                {"width": 17, "height": 21, "view": {"fill": "#1B1A6E", "stroke": null}, "data": {"values": [{"n": "4"}]},
                 "mark": {"type": "text", "color": "#FFFFFF", "fontSize": 10, "fontWeight": "bold", "font": "Liberation Sans"},
                 "encoding": {"text": {"field": "n", "type": "nominal"}}}
               ], "columns": 2, "align": "none", "spacing": 2, "resolve": {"scale": {"color": "independent"}, "legend": {"color": "independent"}}}
             ], "columns": 1, "align": "none", "spacing": 11, "resolve": {"scale": {"color": "independent"}, "legend": {"color": "independent"}}}
           ], "columns": 1, "align": "none", "spacing": 8, "resolve": {"scale": {"color": "independent"}, "legend": {"color": "independent"}}}
         ], "columns": 1, "align": "none", "spacing": 32, "resolve": {"scale": {"color": "independent"}, "legend": {"color": "independent"}}}
       ], "columns": 1, "align": "none", "spacing": 16, "resolve": {"scale": {"color": "independent"}, "legend": {"color": "independent"}}}
     ], "columns": 1, "align": "none", "spacing": 17, "resolve": {"scale": {"color": "independent"}, "legend": {"color": "independent"}}}
   ], "columns": 1, "align": "none", "spacing": 50, "resolve": {"scale": {"color": "independent"}, "legend": {"color": "independent"}}}
 ],
 "columns": 1, "align": "none", "spacing": 2
}
